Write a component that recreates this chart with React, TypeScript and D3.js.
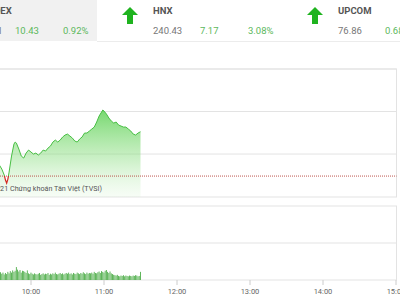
import React from "react";
import * as d3 from "d3";

const indexNames = ["VN-INDEX", "HNX", "UPCOM"];
const indexValues = ["1144.11", "240.43", "76.86"];
const indexChanges = ["10.43", "7.17", "0.68"];
const indexPercents = ["0.92%", "3.08%", "0.89%"];

const refValue = 1133.67;
const priceTimes = [
  "9:30", "9:32", "9:34", "9:36", "9:38", "9:39", "9:40", "9:41", "9:42", "9:44",
  "9:46", "9:47", "9:48", "9:50", "9:52", "9:54", "9:56", "9:58", "10:00", "10:02",
  "10:04", "10:06", "10:08", "10:10", "10:12", "10:14", "10:16", "10:18", "10:20", "10:22",
  "10:24", "10:26", "10:28", "10:30", "10:32", "10:34", "10:36", "10:38", "10:40", "10:42",
  "10:44", "10:46", "10:48", "10:50", "10:52", "10:54", "10:56", "10:58", "10:59", "11:00",
  "11:02", "11:04", "11:06", "11:08", "11:10", "11:12", "11:14", "11:16", "11:18", "11:20",
  "11:22", "11:24", "11:26", "11:28", "11:30",
];
const priceValues = [
  1137.91, 1137.2, 1136.26, 1135.32, 1133.91, 1132.73, 1132.02, 1132.96, 1134.61, 1138.38,
  1141.2, 1141.67, 1141.43, 1140.02, 1138.38, 1137.91, 1139.08, 1139.79, 1139.32, 1138.85,
  1139.08, 1138.61, 1139.08, 1139.79, 1139.55, 1140.26, 1140.73, 1141.67, 1142.14, 1141.67,
  1142.14, 1142.85, 1143.32, 1143.55, 1143.08, 1142.61, 1141.91, 1141.67, 1142.38, 1142.85,
  1143.79, 1143.79, 1144.26, 1144.73, 1145.2, 1146.38, 1147.79, 1148.73, 1149.2, 1148.96,
  1148.26, 1147.32, 1146.61, 1146.14, 1146.38, 1145.67, 1145.43, 1145.2, 1145.2, 1144.73,
  1144.26, 1143.55, 1143.32, 1143.79, 1144.1,
];
const priceDomain = [1128.75, 1158.85];
const priceGrid = [1138.85, 1148.85, 1158.85];

const volumeStart = "9:30";
const volumeValues = [
  2.0, 2.3, 1.8, 2.1, 2.2, 2.1, 1.7, 2.0, 1.5, 1.9,
  1.6, 2.2, 1.8, 2.4, 2.0, 2.6, 2.2, 2.5, 3.5, 2.8,
  2.3, 2.7, 2.0, 2.5, 2.4, 2.2, 1.9, 2.6, 1.8, 1.6,
  2.0, 1.7, 1.5, 1.8, 1.6, 1.5, 1.7, 1.9, 1.4, 1.6,
  1.8, 1.5, 1.7, 1.6, 1.9, 1.4, 1.7, 1.5, 1.8, 1.6,
  2.0, 1.6, 1.5, 1.7, 1.9, 1.6, 1.8, 1.5, 1.7, 1.9,
  1.7, 2.0, 1.6, 1.8, 1.5, 1.9, 1.7, 1.6, 2.0, 1.8,
  1.6, 1.9, 1.7, 2.1, 1.8, 1.6, 2.0, 1.7, 1.9, 1.8,
  2.0, 1.7, 2.2, 1.9, 1.8, 2.1, 2.3, 1.9, 2.4, 2.2,
  2.0, 2.5, 2.7, 2.2, 1.9, 2.3, 1.8, 1.6, 1.4, 1.3,
  1.2, 1.4, 1.1, 1.0, 1.2, 1.1, 1.3, 1.0, 1.2, 1.1,
  1.0, 1.2, 1.1, 1.0, 1.2, 1.1, 1.3, 1.2, 1.0, 1.1,
  2.2,
];
const volumeDomain = [0, 20];
const volumeGrid = [10];
const xTickLabels = ["10:00", "11:00", "12:00", "13:00", "14:00", "15:00"];
const sessionStart = "9:00";
const sessionEnd = "15:00";

const parseT = (s: string) => {
  const [h, m] = s.split(":").map(Number);
  return new Date(2021, 0, 4, h, m);
};

export default function App() {
  const W = 400;
  const H = 300;
  const x = d3.scaleTime().domain([parseT(sessionStart), parseT(sessionEnd)]).range([-42, 396]);
  const pTop = 69, pBot = 197;
  const vTop = 206, vBot = 280;
  const right = 396.5;
  const y = d3.scaleLinear().domain(priceDomain).range([pBot, pTop]);
  const yv = d3.scaleLinear().domain(volumeDomain).range([vBot, vTop]);

  const pts = priceTimes.map((t, i) => ({ t: parseT(t), v: priceValues[i] }));
  const line = d3.line<any>().x((d) => x(d.t)).y((d) => y(d.v));
  const area = d3.area<any>().x((d) => x(d.t)).y0(pBot).y1((d) => y(d.v));
  const refY = y(refValue);
  const vStart = parseT(volumeStart);
  const bars = volumeValues.map((v, i) => ({ t: d3.timeMinute.offset(vStart, i), v }));

  const font = "Roboto, 'Noto Sans', sans-serif";

  return (
    <svg width={W} height={H} style={{ position: "fixed", left: 0, top: 0, background: "#fff" }} fontFamily={font}>
      <defs>
        <linearGradient id="pg" gradientUnits="userSpaceOnUse" x1="0" x2="0" y1={pTop + 35} y2={pBot}>
          <stop offset="0" stopColor="#62d25a" stopOpacity={0.95} />
          <stop offset="0.6" stopColor="#8fdf85" stopOpacity={0.45} />
          <stop offset="1" stopColor="#c8efc2" stopOpacity={0.15} />
        </linearGradient>
        <clipPath id="above"><rect x={-50} y={pTop} width={460} height={refY - pTop} /></clipPath>
        <clipPath id="below"><rect x={-50} y={refY} width={460} height={pBot - refY} /></clipPath>
      </defs>

      {/* top index bar */}
      <rect x={0} y={0} width={97} height={41} fill="#f1f1f1" />
      <line x1={97} x2={W} y1={41.5} y2={41.5} stroke="#ececec" />
      {indexNames.map((n, i) => {
        const ax = -63 + 185 * i;
        return (
          <g key={n}>
            <path
              d={`M${ax + 8},${7} L${ax + 16},${15} L${ax + 11},${15} L${ax + 11},${24} L${ax + 5},${24} L${ax + 5},${15} L${ax},${15} Z`}
              fill="#1fb31f"
            />
            <text x={ax + 31} y={13.5} fontSize={9.5} fontWeight="bold" fill="#555">{n}</text>
            <text x={ax + 31} y={33.5} fontSize={9.5} fill="#777">{indexValues[i]}</text>
            <text x={ax + 78} y={33.5} fontSize={9.5} fill="#5cb85c">{indexChanges[i]}</text>
            <text x={ax + 126} y={33.5} fontSize={9.5} fill="#5cb85c">{indexPercents[i]}</text>
          </g>
        );
      })}

      {/* price panel */}
      <rect x={-10} y={pTop} width={right + 10} height={pBot - pTop} fill="none" stroke="#e3e3e3" />
      {priceGrid.map((g) => (
        <line key={g} x1={0} x2={right} y1={y(g)} y2={y(g)} stroke="#e3e3e3" />
      ))}
      <path d={area(pts) || ""} fill="url(#pg)" />
      <text x={102} y={190.5} fontSize={7.2} fill="#555" textAnchor="end">© 2021 Chứng khoán Tân Việt (TVSI)</text>
      <line x1={0} x2={right} y1={refY} y2={refY} stroke="#b5443c" strokeWidth={0.9} strokeDasharray="1,1" />
      <path d={line(pts) || ""} fill="none" stroke="#48bf44" strokeWidth={1} clipPath="url(#above)" />
      <path d={line(pts) || ""} fill="none" stroke="#d42a22" strokeWidth={1.2} clipPath="url(#below)" />

      {/* volume panel */}
      <rect x={-10} y={vTop} width={right + 10} height={vBot - vTop} fill="none" stroke="#e3e3e3" />
      {volumeGrid.map((g) => (
        <line key={g} x1={0} x2={right} y1={yv(g)} y2={yv(g)} stroke="#e3e3e3" />
      ))}
      {bars.map((b, i) => (
        <rect key={i} x={x(b.t) - 0.5} y={yv(b.v)} width={0.9} height={vBot - yv(b.v)} fill="#4fae4a" />
      ))}
      {xTickLabels.map((t) => (
        <g key={t}>
          <line x1={x(parseT(t))} x2={x(parseT(t))} y1={vBot} y2={vBot + 5} stroke="#ccc" />
          <text x={x(parseT(t))} y={293.5} fontSize={7.5} fill="#666" textAnchor="middle">{t}</text>
        </g>
      ))}
    </svg>
  );
}
